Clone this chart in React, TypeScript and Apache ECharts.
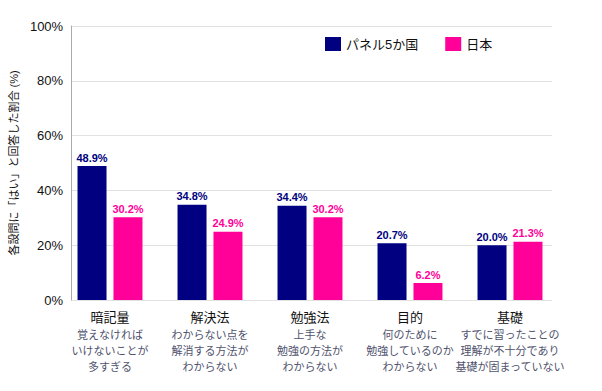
import React, { useEffect, useRef } from "react";
import * as echarts from "echarts";

const categories = ["暗記量", "解決法", "勉強法", "目的", "基礎"];
const subtitles = [
  "覚えなければ\nいけないことが\n多すぎる",
  "わからない点を\n解消する方法が\nわからない",
  "上手な\n勉強の方法が\nわからない",
  "何のために\n勉強しているのか\nわからない",
  "すでに習ったことの\n理解が不十分であり\n基礎が固まっていない",
];
const panel5 = [48.9, 34.8, 34.4, 20.7, 20.0];
const japan = [30.2, 24.9, 30.2, 6.2, 21.3];
const seriesNames = ["パネル5か国", "日本"];
const yTicks = [0, 20, 40, 60, 80, 100];

const FONT = "'Liberation Sans', 'Noto Sans CJK JP', sans-serif";
const NAVY = "#000080";
const PINK = "#ff0099";

export default function App() {
  const ref = useRef<HTMLDivElement>(null);
  useEffect(() => {
    document.body.style.margin = "0";
    if (!ref.current) return;
    const chart = echarts.init(ref.current, undefined, { renderer: "svg" });
    const catLabels = categories.map((c, i) => `{t|${c}}\n{s|${subtitles[i]}}`);
    chart.setOption({
      animation: false,
      textStyle: { fontFamily: FONT },
      legend: {
        left: 325,
        top: 37,
        padding: 0,
        itemWidth: 16,
        itemHeight: 14,
        itemGap: 27,
        icon: "rect",
        textStyle: { fontSize: 13, color: "#111", fontFamily: FONT },
        data: seriesNames,
      },
      grid: [
        { left: 60, right: 42, top: 26, bottom: 91 },
        { left: 68, right: 50, top: 26, bottom: 91 },
      ],
      xAxis: [
        {
          type: "category",
          gridIndex: 0,
          data: catLabels,
          axisLine: { show: false },
          axisTick: { show: false },
          axisLabel: {
            interval: 0,
            margin: 7,
            rich: {
              t: { fontSize: 13, color: "#111", fontFamily: FONT, lineHeight: 20 },
              s: { fontSize: 11, color: "#50536e", fontFamily: FONT, lineHeight: 16 },
            },
          },
        },
        {
          type: "category",
          gridIndex: 1,
          data: categories,
          show: false,
        },
      ],
      yAxis: [
        {
          type: "value",
          gridIndex: 0,
          min: 0,
          max: 100,
          interval: 20,
          show: false,
          splitLine: { show: false },
        },
        {
          type: "value",
          gridIndex: 1,
          min: yTicks[0],
          max: yTicks[yTicks.length - 1],
          interval: 20,
          name: "各設問に「はい」と回答した割合 (%)",
          nameLocation: "middle",
          nameGap: 43,
          nameTextStyle: { fontSize: 11, color: "#111", fontFamily: FONT },
          axisLine: { show: true, lineStyle: { color: "#aaa" } },
          axisTick: { show: false },
          axisLabel: {
            formatter: "{value}%",
            fontSize: 13,
            color: "#111",
            margin: 8,
            fontFamily: FONT,
          },
          splitLine: { show: true, lineStyle: { color: "#e2e2e2" } },
        },
      ],
      series: [
        {
          name: seriesNames[0],
          type: "bar",
          xAxisIndex: 0,
          yAxisIndex: 0,
          data: panel5,
          barWidth: 29,
          barGap: "24%",
          itemStyle: { color: NAVY },
          label: {
            show: true,
            position: "top",
            distance: 3,
            formatter: (p: any) => p.value.toFixed(1) + "%",
            color: NAVY,
            fontWeight: "bold",
            fontSize: 11,
            fontFamily: FONT,
          },
        },
        {
          name: seriesNames[1],
          type: "bar",
          xAxisIndex: 0,
          yAxisIndex: 0,
          data: japan,
          barWidth: 29,
          barGap: "24%",
          itemStyle: { color: PINK },
          label: {
            show: true,
            position: "top",
            distance: 3,
            formatter: (p: any) => p.value.toFixed(1) + "%",
            color: PINK,
            fontWeight: "bold",
            fontSize: 11,
            fontFamily: FONT,
          },
        },
      ],
    });
    return () => chart.dispose();
  }, []);
  return <div ref={ref} style={{ width: 602, height: 391 }} />;
}
